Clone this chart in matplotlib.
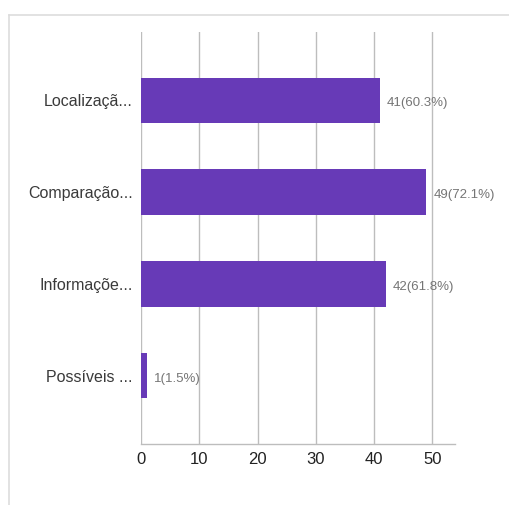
import matplotlib.pyplot as plt
from matplotlib.lines import Line2D

# data
categories = ['Localizaçã...', 'Comparação...', 'Informaçõe...', 'Possíveis ...']
counts = [41, 49, 42, 1]
percents = [60.3, 72.1, 61.8, 1.5]
xticks = [0, 10, 20, 30, 40, 50]

bar_color = '#673AB7'
grid_color = '#bdbdbd'

plt.rcParams['font.family'] = ['Liberation Sans', 'DejaVu Sans']

fig = plt.figure(figsize=(5.09, 5.05), dpi=100)
ax = fig.add_axes([141 / 509, 1 - 444 / 505, (455 - 141) / 509, (444 - 32) / 505])

ypos = list(range(len(categories)))
ax.barh(ypos, counts, height=0.49, color=bar_color, zorder=3)

for y, c, p in zip(ypos, counts, percents):
    ax.annotate('{}({}%)'.format(c, p), (c, y), xytext=(5, -2),
                textcoords='offset points', va='center', ha='left',
                fontsize=9.5, color='#757575')

ax.set_xlim(0, 53.9)
ax.set_ylim(3.74, -0.74)
ax.set_yticks(ypos)
ax.set_yticklabels(categories, fontsize=11.5, color='#3a3a3a')
ax.set_xticks(xticks)
ax.set_xticklabels([str(t) for t in xticks], fontsize=12, color='#222222')
ax.tick_params(axis='y', length=0, pad=6)
ax.tick_params(axis='x', length=0, pad=6)
ax.grid(axis='x', color=grid_color, lw=1, zorder=0)

for s in ['top', 'right', 'left']:
    ax.spines[s].set_visible(False)
ax.spines['bottom'].set_color(grid_color)
ax.spines['bottom'].set_linewidth(1)

# card border (left and top)
fig.add_artist(Line2D([9 / 509, 9 / 509], [0, 1 - 15 / 505],
                      transform=fig.transFigure, color='#dddddd', lw=1.2))
fig.add_artist(Line2D([9 / 509, 1], [1 - 15 / 505, 1 - 15 / 505],
                      transform=fig.transFigure, color='#dddddd', lw=1.2))

fig.savefig('out.png', dpi=100)
